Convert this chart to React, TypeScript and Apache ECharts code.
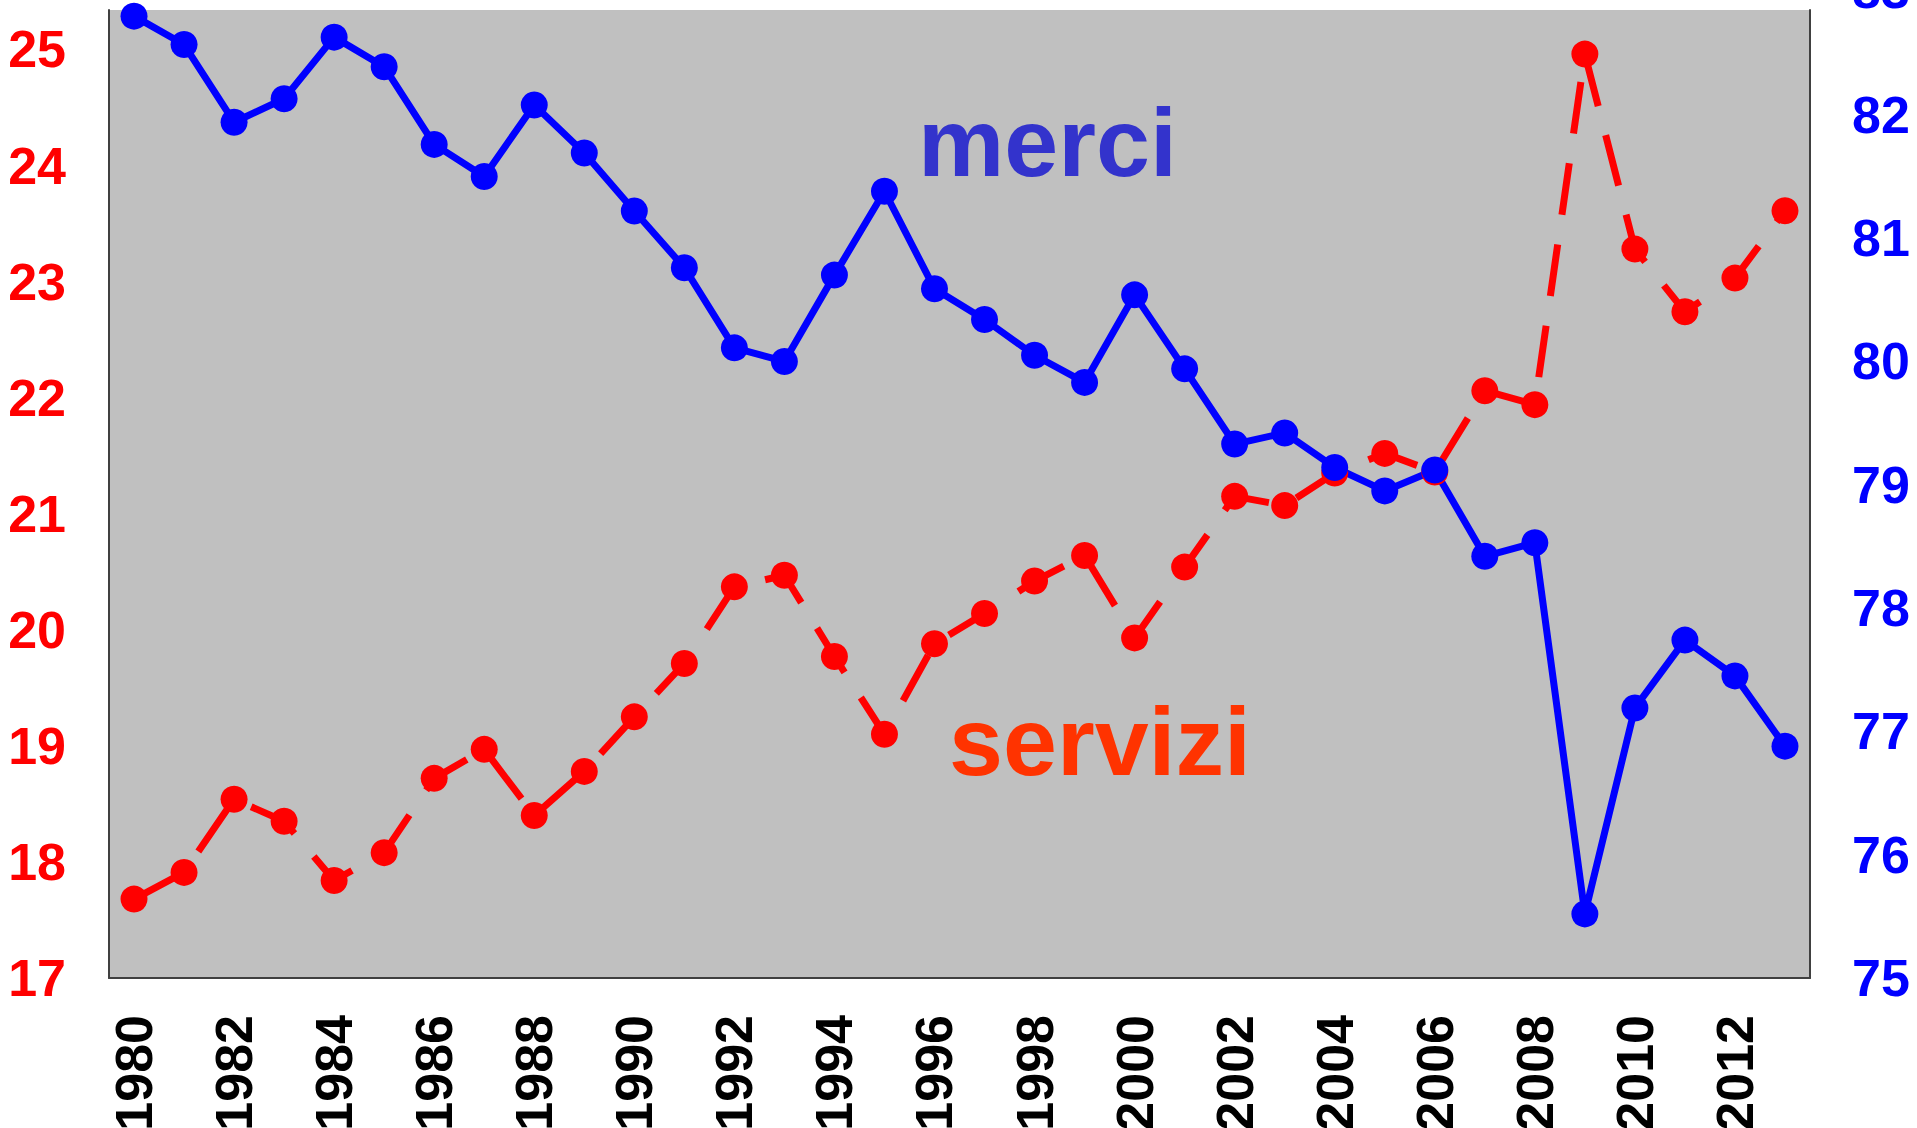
import React, { useEffect, useRef } from "react";
import * as echarts from "echarts";

const years = [
  "1980", "1981", "1982", "1983", "1984", "1985", "1986", "1987", "1988", "1989",
  "1990", "1991", "1992", "1993", "1994", "1995", "1996", "1997", "1998", "1999",
  "2000", "2001", "2002", "2003", "2004", "2005", "2006", "2007", "2008", "2009",
  "2010", "2011", "2012", "2013",
];

// servizi (left axis, red dashed)
const servizi = [
  17.68, 17.91, 18.54, 18.35, 17.84, 18.08, 18.72, 18.97, 18.40, 18.78,
  19.25, 19.71, 20.37, 20.47, 19.77, 19.10, 19.88, 20.14, 20.42, 20.64,
  19.93, 20.54, 21.15, 21.07, 21.35, 21.52, 21.36, 22.06, 21.94, 24.96,
  23.28, 22.74, 23.03, 23.61,
];

// merci (right axis, blue solid)
const merci = [
  82.80, 82.57, 81.94, 82.13, 82.63, 82.39, 81.76, 81.50, 82.08, 81.69,
  81.22, 80.76, 80.11, 80.00, 80.70, 81.38, 80.59, 80.34, 80.05, 79.83,
  80.54, 79.94, 79.33, 79.42, 79.14, 78.95, 79.12, 78.42, 78.53, 75.52,
  77.19, 77.74, 77.45, 76.88,
];

const leftRange = [17, 25.34];
const rightRange = [75, 82.85];

const FONT = "'Liberation Sans', Arial, sans-serif";

export default function App() {
  const ref = useRef<HTMLDivElement>(null);
  useEffect(() => {
    if (!ref.current) return;
    const chart = echarts.init(ref.current, null, { renderer: "svg" });
    const intOnly = (v: number) => (Math.abs(v - Math.round(v)) < 1e-6 ? String(Math.round(v)) : "");
    chart.setOption({
      animation: false,
      backgroundColor: "#ffffff",
      grid: {
        left: 109,
        right: 107,
        top: 10,
        bottom: 150,
        show: true,
        backgroundColor: "#c0c0c0",
        borderWidth: 0,
        containLabel: false,
        outerBoundsMode: "none",
      },
      xAxis: {
        type: "category",
        data: years,
        boundaryGap: true,
        axisLine: { show: true, lineStyle: { color: "#404040", width: 2 } },
        axisTick: { show: false },
        splitLine: { show: false },
        axisLabel: {
          interval: 1,
          rotate: 90,
          margin: 37,
          color: "#000000",
          fontSize: 52,
          fontWeight: "bold",
          fontFamily: FONT,
        },
      },
      yAxis: [
        {
          type: "value",
          position: "left",
          min: leftRange[0],
          max: leftRange[1],
          interval: 1,
          axisLine: { show: true, lineStyle: { color: "#404040", width: 2 } },
          axisTick: { show: false },
          splitLine: { show: false },
          axisLabel: {
            margin: 43,
            color: "#ff0000",
            fontSize: 52,
            fontWeight: "bold",
            fontFamily: FONT,
            formatter: intOnly,
          },
        },
        {
          type: "value",
          position: "right",
          min: rightRange[0],
          max: rightRange[1],
          interval: 1,
          axisLine: { show: true, lineStyle: { color: "#404040", width: 2 } },
          axisTick: { show: false },
          splitLine: { show: false },
          axisLabel: {
            margin: 42,
            color: "#0000ff",
            fontSize: 52,
            fontWeight: "bold",
            fontFamily: FONT,
            formatter: intOnly,
          },
        },
      ],
      series: [
        {
          name: "servizi",
          type: "line",
          yAxisIndex: 0,
          data: servizi,
          symbol: "circle",
          symbolSize: 27,
          showAllSymbol: true,
          itemStyle: { color: "#ff0000" },
          lineStyle: { color: "#ff0000", width: 7, type: [52, 30] },
        },
        {
          name: "merci",
          type: "line",
          yAxisIndex: 1,
          data: merci,
          symbol: "circle",
          symbolSize: 27,
          showAllSymbol: true,
          itemStyle: { color: "#0000ff" },
          lineStyle: { color: "#0000ff", width: 7 },
        },
      ],
      graphic: [
        {
          type: "text",
          left: 918,
          top: 94,
          style: {
            text: "merci",
            fill: "#3333cc",
            font: `bold 97px ${FONT}`,
          },
        },
        {
          type: "text",
          left: 949,
          top: 693,
          style: {
            text: "servizi",
            fill: "#ff3300",
            font: `bold 97px ${FONT}`,
          },
        },
        {
          type: "text",
          left: 1852,
          top: -36,
          style: {
            text: "83",
            fill: "#0000ff",
            font: `bold 52px ${FONT}`,
          },
        },
      ],
    });
    return () => chart.dispose();
  }, []);
  return (
    <div
      ref={ref}
      style={{ position: "fixed", left: 0, top: 0, width: 1917, height: 1128 }}
    />
  );
}
